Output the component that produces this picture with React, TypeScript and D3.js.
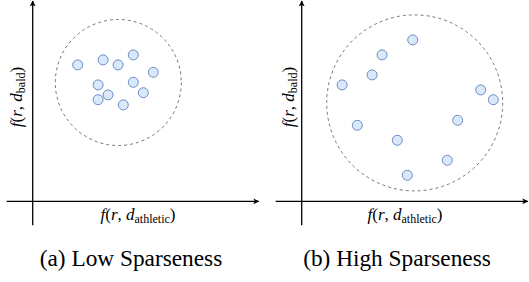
import * as d3 from 'd3';

// point positions in axis units (origin at the axes crossing)
const lowX = [22.5, 35.2, 42.7, 50.3, 60.3, 32.7, 50.3, 55.3, 32.7, 37.7, 45.3];
const lowY = [68.2, 70.7, 68.2, 73.2, 64.5, 58.2, 59.5, 54.3, 50.8, 53.2, 48.2];
const highX = [55.5, 40.2, 35.2, 20.2, 89.5, 95.8, 78, 27.8, 47.8, 72.8, 52.8];
const highY = [80.7, 73.2, 63.2, 58.2, 55.7, 50.8, 40.5, 38, 30.5, 20.5, 13];
// enclosing dashed circle: [cx, cy, r]
const lowCircle = [42.8, 59.4, 31.5];
const highCircle = [56.5, 49.2, 44];
const captions = ['(a) Low Sparseness', '(b) High Sparseness'];

const W = 529;
const H = 282;
const OY = 201.3;
const SERIF = 'Liberation Serif';

const panels = [
  { ox: 32.7, xs: lowX, ys: lowY, circle: lowCircle, caption: captions[0], capX: 131, yLab: 22, xLab: 138 },
  { ox: 301.7, xs: highX, ys: highY, circle: highCircle, caption: captions[1], capX: 397, yLab: 294, xLab: 405 },
];

function MathLabel({ sub }: { sub: string }) {
  return (
    <>
      <tspan fontStyle="italic">f</tspan>
      <tspan>(</tspan>
      <tspan fontStyle="italic">r</tspan>
      <tspan>, </tspan>
      <tspan fontStyle="italic">d</tspan>
      <tspan fontSize={12} dy={3}>{sub}</tspan>
      <tspan dy={-3}>)</tspan>
    </>
  );
}

function Panel({ p }: { p: typeof panels[number] }) {
  const x = d3.scaleLinear().domain([0, 100]).range([p.ox, p.ox + 200]);
  const y = d3.scaleLinear().domain([0, 100]).range([OY, OY - 200]);
  const [cx, cy, r] = p.circle;
  return (
    <g>
      <line x1={p.ox - 26} y1={OY} x2={p.ox + 226} y2={OY} stroke="#000" strokeWidth={1.3} markerEnd="url(#arrow)" />
      <line x1={p.ox} y1={OY + 24} x2={p.ox} y2={1} stroke="#000" strokeWidth={1.3} markerEnd="url(#arrow)" />
      <circle
        cx={x(cx)} cy={y(cy)} r={x(r) - x(0)}
        fill="none" stroke="#666" strokeWidth={0.9} strokeDasharray="3,3"
      />
      {p.xs.map((v, i) => (
        <circle key={i} cx={x(v)} cy={y(p.ys[i])} r={5} fill="#dae8fc" stroke="#6c8ebf" strokeWidth={1} />
      ))}
      <text x={p.xLab} y={220} textAnchor="middle" fontSize={17} style={{ fontFamily: SERIF }}>
        <MathLabel sub="athletic" />
      </text>
      <text transform={`translate(${p.yLab},97) rotate(-90)`} textAnchor="middle" fontSize={17} style={{ fontFamily: SERIF }}>
        <MathLabel sub="bald" />
      </text>
      <text x={p.capX} y={266} textAnchor="middle" fontSize={23.3} fill="#000" style={{ fontFamily: SERIF }}>
        {p.caption}
      </text>
    </g>
  );
}

export default function App() {
  return (
    <svg width={W} height={H} style={{ position: 'absolute', left: 0, top: 0, background: '#fff' }}>
      <defs>
        <marker id="arrow" viewBox="0 0 10 10" refX={9} refY={5} markerWidth={6} markerHeight={6}
          markerUnits="userSpaceOnUse" orient="auto">
          <path d="M0,0 L10,5 L0,10 L2.5,5 Z" fill="#000" />
        </marker>
      </defs>
      {panels.map((p, i) => <Panel key={i} p={p} />)}
    </svg>
  );
}
